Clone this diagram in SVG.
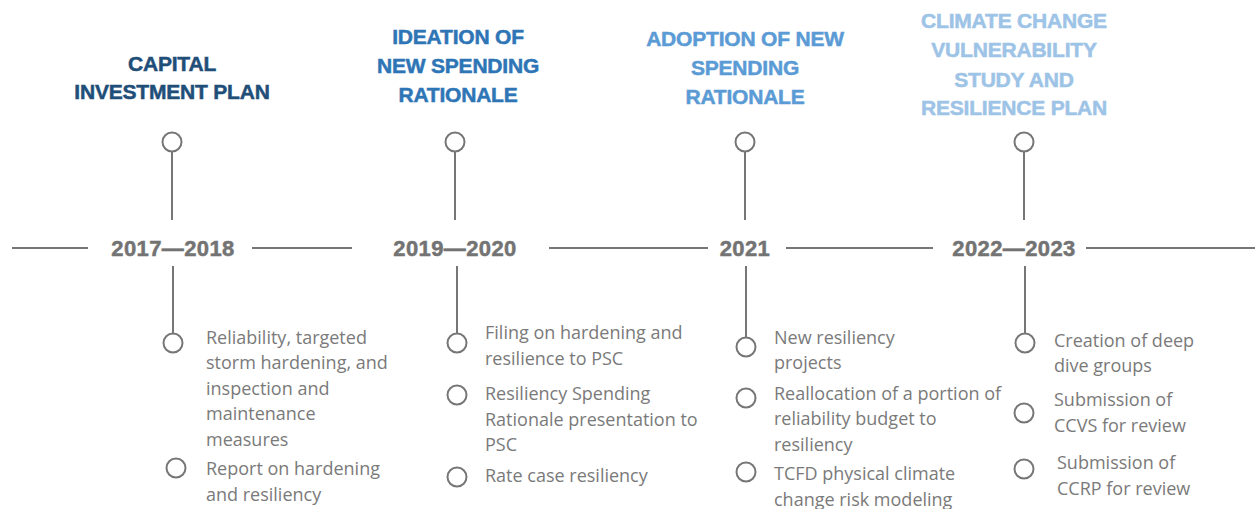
<svg xmlns="http://www.w3.org/2000/svg" width="1255" height="509" viewBox="0 0 1255 509">
<style>
.ln{stroke:#767676;stroke-width:2;fill:none}
.dot{stroke:#767676;stroke-width:2;fill:#fff}
.yr{font-family:"Liberation Sans",Arial,sans-serif;font-weight:bold;font-size:22px;letter-spacing:0.4px;fill:#737373;stroke:#737373;stroke-width:0.5;text-anchor:middle}
.tt{font-family:"Liberation Sans",Arial,sans-serif;font-weight:bold;font-size:21px;letter-spacing:-0.2px;stroke-width:0.5;text-anchor:middle}
.bd{font-family:"Open Sans",sans-serif;font-size:18px;fill:#7a7a7a}
.c1{fill:#1f4e79;stroke:#1f4e79}
.c2{fill:#2e75b6;stroke:#2e75b6}
.c3{fill:#5b9bd5;stroke:#5b9bd5}
.c4{fill:#9dc3e6;stroke:#9dc3e6}
</style>
<rect width="1255" height="509" fill="#fff"/>
<g id="connectors">
<line class="ln" x1="12" y1="248" x2="88" y2="248"/>
<line class="ln" x1="252" y1="248" x2="352" y2="248"/>
<line class="ln" x1="549" y1="248" x2="708" y2="248"/>
<line class="ln" x1="786" y1="248" x2="933" y2="248"/>
<line class="ln" x1="1086" y1="248" x2="1255" y2="248"/>
<line class="ln" x1="172" y1="152" x2="172" y2="220"/>
<line class="ln" x1="455" y1="152" x2="455" y2="220"/>
<line class="ln" x1="745" y1="152" x2="745" y2="220"/>
<line class="ln" x1="1024" y1="152" x2="1024" y2="220"/>
<line class="ln" x1="173" y1="266" x2="173" y2="334"/>
<line class="ln" x1="457" y1="266" x2="457" y2="334"/>
<line class="ln" x1="746" y1="266" x2="746" y2="338"/>
<line class="ln" x1="1025" y1="266" x2="1025" y2="334"/>
</g>
<g id="p1">
<text class="tt c1" x="172" y="71">CAPITAL</text>
<text class="tt c1" x="172" y="99">INVESTMENT PLAN</text>
<circle class="dot" cx="172" cy="142" r="9.5"/>
<text class="yr" x="173" y="256">2017—2018</text>
<circle class="dot" cx="173" cy="343" r="9.5"/>
<text class="bd" x="206" y="344">Reliability, targeted</text>
<text class="bd" x="206" y="369">storm hardening, and</text>
<text class="bd" x="206" y="395">inspection and</text>
<text class="bd" x="206" y="420">maintenance</text>
<text class="bd" x="206" y="446">measures</text>
<circle class="dot" cx="176" cy="468" r="9.5"/>
<text class="bd" x="206" y="475">Report on hardening</text>
<text class="bd" x="206" y="501">and resiliency</text>
</g>
<g id="p2">
<text class="tt c2" x="458" y="44">IDEATION OF</text>
<text class="tt c2" x="458" y="73">NEW SPENDING</text>
<text class="tt c2" x="458" y="102">RATIONALE</text>
<circle class="dot" cx="455" cy="142" r="9.5"/>
<text class="yr" x="455" y="256">2019—2020</text>
<circle class="dot" cx="457" cy="343" r="9.5"/>
<text class="bd" x="485" y="339">Filing on hardening and</text>
<text class="bd" x="485" y="365">resilience to PSC</text>
<circle class="dot" cx="457" cy="395" r="9.5"/>
<text class="bd" x="485" y="400">Resiliency Spending</text>
<text class="bd" x="485" y="426">Rationale presentation to</text>
<text class="bd" x="485" y="451">PSC</text>
<circle class="dot" cx="457" cy="477" r="9.5"/>
<text class="bd" x="485" y="482">Rate case resiliency</text>
</g>
<g id="p3">
<text class="tt c3" x="745" y="46">ADOPTION OF NEW</text>
<text class="tt c3" x="745" y="75">SPENDING</text>
<text class="tt c3" x="745" y="104">RATIONALE</text>
<circle class="dot" cx="745" cy="142" r="9.5"/>
<text class="yr" x="745" y="256">2021</text>
<circle class="dot" cx="746" cy="347" r="9.5"/>
<text class="bd" x="774" y="344">New resiliency</text>
<text class="bd" x="774" y="369">projects</text>
<circle class="dot" cx="746" cy="398" r="9.5"/>
<text class="bd" x="774" y="400">Reallocation of a portion of</text>
<text class="bd" x="774" y="425">reliability budget to</text>
<text class="bd" x="774" y="451">resiliency</text>
<circle class="dot" cx="746" cy="472" r="9.5"/>
<text class="bd" x="774" y="480">TCFD physical climate</text>
<text class="bd" x="774" y="506">change risk modeling</text>
</g>
<g id="p4">
<text class="tt c4" x="1014" y="28">CLIMATE CHANGE</text>
<text class="tt c4" x="1014" y="57">VULNERABILITY</text>
<text class="tt c4" x="1014" y="87">STUDY AND</text>
<text class="tt c4" x="1014" y="115">RESILIENCE PLAN</text>
<circle class="dot" cx="1024" cy="142" r="9.5"/>
<text class="yr" x="1014" y="256">2022—2023</text>
<circle class="dot" cx="1025" cy="343" r="9.5"/>
<text class="bd" x="1054" y="347">Creation of deep</text>
<text class="bd" x="1054" y="372">dive groups</text>
<circle class="dot" cx="1024" cy="413" r="9.5"/>
<text class="bd" x="1054" y="406">Submission of</text>
<text class="bd" x="1054" y="432">CCVS for review</text>
<circle class="dot" cx="1024" cy="469" r="9.5"/>
<text class="bd" x="1057" y="469">Submission of</text>
<text class="bd" x="1057" y="495">CCRP for review</text>
</g>
</svg>
